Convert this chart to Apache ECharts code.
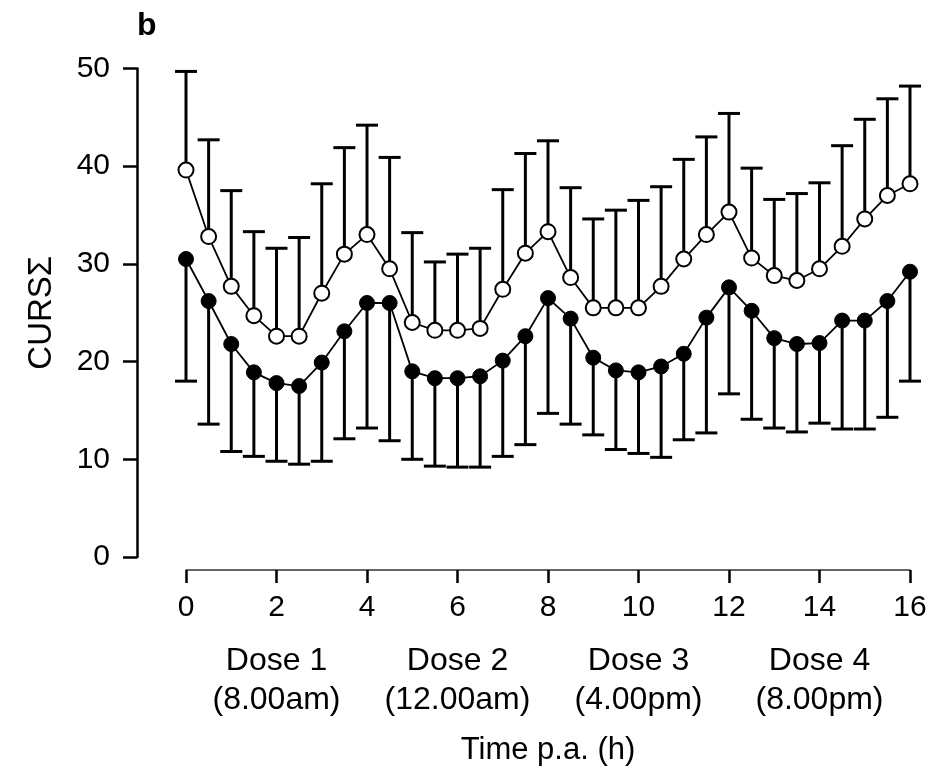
<!DOCTYPE html>
<html>
<head>
<meta charset="utf-8">
<script src="https://cdn.jsdelivr.net/npm/echarts@6/dist/echarts.min.js"></script>
<style>html,body{margin:0;padding:0;background:#fff;}#c{width:938px;height:777px;}</style>
</head>
<body>
<div id="c"></div>
<script>
const hours = [0,0.5,1,1.5,2,2.5,3,3.5,4,4.5,5,5.5,6,6.5,7,7.5,8,8.5,9,9.5,10,10.5,11,11.5,12,12.5,13,13.5,14,14.5,15,15.5,16];
const openMean = [39.6,32.8,27.7,24.7,22.6,22.6,27.0,31.0,33.0,29.5,24.0,23.2,23.2,23.4,27.4,31.1,33.3,28.6,25.5,25.5,25.5,27.7,30.5,33.0,35.3,30.6,28.8,28.3,29.5,31.8,34.6,37.0,38.2];
const openUpper = [49.7,42.7,37.5,33.3,31.6,32.7,38.2,41.9,44.2,40.9,33.2,30.2,31.0,31.6,37.6,41.3,42.6,37.8,34.6,35.5,36.5,37.9,40.7,43.0,45.4,39.8,36.6,37.2,38.3,42.1,44.8,46.9,48.2];
const filledMean = [30.5,26.2,21.8,18.9,17.8,17.5,19.9,23.1,26.0,26.0,19.0,18.3,18.3,18.5,20.1,22.6,26.5,24.4,20.4,19.1,18.9,19.5,20.8,24.5,27.6,25.2,22.4,21.8,21.9,24.2,24.2,26.2,29.2];
const filledLower = [18.0,13.6,10.8,10.3,9.8,9.5,9.8,12.1,13.2,11.9,10.0,9.3,9.2,9.2,10.3,11.5,14.7,13.6,12.5,11.0,10.6,10.2,12.0,12.7,16.7,14.1,13.2,12.8,13.7,13.1,13.1,14.3,18.0];
const xTicks = [0,2,4,6,8,10,12,14,16];
const yTicks = [0,10,20,30,40,50];
const doseAt = {2:['Dose 1','(8.00am)'],6:['Dose 2','(12.00am)'],10:['Dose 3','(4.00pm)'],14:['Dose 4','(8.00pm)']};
const titleText = 'b';
const yName = 'CURSΣ';
const xName = 'Time p.a. (h)';

const FONT = 'Liberation Sans, Arial, sans-serif';
const chart = echarts.init(document.getElementById('c'), null, {renderer:'canvas'});

function errBars(mean, end) {
  return hours.map((h,i)=>[h, mean[i], end[i]]);
}
function renderErr(params, api) {
  const x = api.value(0);
  const p0 = api.coord([x, api.value(1)]);
  const p1 = api.coord([x, api.value(2)]);
  const hw = 11;
  const st = {stroke:'#000', lineWidth:3};
  return {type:'group', children:[
    {type:'line', shape:{x1:p0[0],y1:p0[1],x2:p1[0],y2:p1[1]}, style:st},
    {type:'line', shape:{x1:p1[0]-hw,y1:p1[1],x2:p1[0]+hw,y2:p1[1]}, style:st}
  ]};
}

chart.setOption({
  animation:false,
  backgroundColor:'#fff',
  title:{text:titleText, left:132, top:5, textStyle:{fontFamily:FONT, fontSize:32, fontWeight:'bold', color:'#000'}},
  grid:{left:186, right:28, top:68.5, bottom:220},
  xAxis:{
    type:'value', min:0, max:16, interval:2,
    offset:13,
    axisLine:{show:true, onZero:false, lineStyle:{color:'#333', width:1.5}},
    axisTick:{show:true, length:13, lineStyle:{color:'#000', width:2.5}},
    splitLine:{show:false},
    axisLabel:{
      margin:3,
      fontFamily:FONT, fontSize:30, color:'#000',
      formatter:function(v){
        if (doseAt[v]) return '{n|'+v+'}\n{d|'+doseAt[v][0]+'}\n{d|'+doseAt[v][1]+'}';
        return '{n|'+v+'}';
      },
      rich:{
        n:{fontFamily:FONT, fontSize:30, lineHeight:69, color:'#000'},
        d:{fontFamily:FONT, fontSize:32, lineHeight:39, color:'#000'}
      }
    },
    name:xName, nameLocation:'middle', nameGap:165,
    nameTextStyle:{fontFamily:FONT, fontSize:31, color:'#000'}
  },
  yAxis:{
    type:'value', min:0, max:50, interval:10,
    offset:49,
    axisLine:{show:true, onZero:false, lineStyle:{color:'#000', width:2.5}},
    axisTick:{show:true, length:14, lineStyle:{color:'#000', width:2.5}},
    splitLine:{show:false},
    axisLabel:{margin:27, fontFamily:FONT, fontSize:30, color:'#000'},
    name:yName, nameLocation:'middle', nameGap:79, nameRotate:90,
    nameTextStyle:{fontFamily:FONT, fontSize:33, color:'#000'}
  },
  series:[
    {type:'custom', renderItem:renderErr, data:errBars(openMean, openUpper), z:1, encode:{x:0,y:[1,2]}},
    {type:'custom', renderItem:renderErr, data:errBars(filledMean, filledLower), z:1, encode:{x:0,y:[1,2]}},
    {type:'line', data:hours.map((h,i)=>[h, filledMean[i]]), z:3,
      symbol:'circle', symbolSize:15,
      lineStyle:{color:'#000', width:1.8},
      itemStyle:{color:'#000', borderColor:'#000', borderWidth:1}},
    {type:'line', data:hours.map((h,i)=>[h, openMean[i]]), z:3,
      symbol:'circle', symbolSize:15,
      lineStyle:{color:'#000', width:1.8},
      itemStyle:{color:'#fff', borderColor:'#000', borderWidth:2}}
  ]
});
</script>
</body>
</html>
